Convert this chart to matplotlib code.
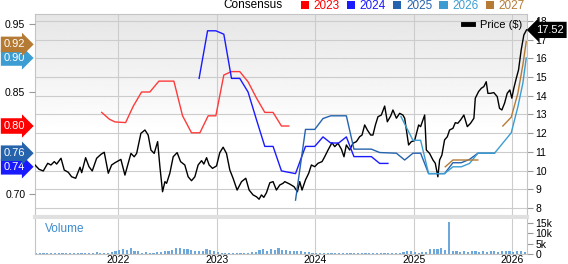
"""
Price vs. EPS consensus chart with a volume panel underneath.
"""
import matplotlib.pyplot as plt
import matplotlib.transforms as mtransforms
from matplotlib.lines import Line2D
from matplotlib.patches import Patch
import numpy as np

plt.rcParams['font.family'] = ['Liberation Sans', 'DejaVu Sans']

# ---- data (dates as decimal years) ----
price_dates = [
    2021.155, 2021.196, 2021.239, 2021.284, 2021.317, 2021.351, 2021.375, 2021.419, 2021.452, 2021.493,
    2021.527, 2021.568, 2021.612, 2021.629, 2021.669, 2021.703, 2021.736, 2021.781, 2021.825, 2021.858,
    2021.899, 2021.933, 2021.967, 2022.027, 2022.068, 2022.101, 2022.129, 2022.162, 2022.187, 2022.230,
    2022.271, 2022.304, 2022.332, 2022.365, 2022.400, 2022.423, 2022.450, 2022.474, 2022.491, 2022.524,
    2022.558, 2022.598, 2022.633, 2022.676, 2022.710, 2022.744, 2022.778, 2022.811, 2022.846, 2022.869,
    2022.897, 2022.923, 2022.957, 2022.998, 2023.031, 2023.065, 2023.099, 2023.133, 2023.166, 2023.207,
    2023.252, 2023.295, 2023.329, 2023.369, 2023.404, 2023.430, 2023.454, 2023.478, 2023.505, 2023.539,
    2023.572, 2023.606, 2023.640, 2023.673, 2023.691, 2023.741, 2023.785, 2023.819, 2023.843, 2023.866,
    2023.901, 2023.934, 2023.961, 2023.995, 2024.028, 2024.069, 2024.096, 2024.130, 2024.170, 2024.198,
    2024.231, 2024.266, 2024.292, 2024.316, 2024.350, 2024.383, 2024.418, 2024.451, 2024.475, 2024.502,
    2024.529, 2024.563, 2024.586, 2024.611, 2024.637, 2024.671, 2024.705, 2024.732, 2024.766, 2024.789,
    2024.824, 2024.857, 2024.890, 2024.908, 2024.948, 2024.976, 2025.009, 2025.050, 2025.070, 2025.093,
    2025.111, 2025.128, 2025.161, 2025.195, 2025.219, 2025.245, 2025.263, 2025.286, 2025.313, 2025.341,
    2025.364, 2025.398, 2025.422, 2025.448, 2025.476, 2025.509, 2025.544, 2025.577, 2025.611, 2025.625,
    2025.658, 2025.686, 2025.712, 2025.736, 2025.753, 2025.780, 2025.813, 2025.848, 2025.871, 2025.895,
    2025.922, 2025.949, 2025.976, 2025.996, 2026.016, 2026.041, 2026.064, 2026.091, 2026.118, 2026.145,
]
price = [
    10.30, 10.07, 9.98, 10.39, 10.30, 10.48, 10.35, 10.66, 10.03, 9.91,
    9.67, 9.59, 10.18, 9.89, 10.69, 10.21, 9.98, 10.66, 10.87, 10.98,
    9.86, 10.30, 10.42, 10.60, 9.76, 10.39, 10.92, 10.74, 10.92, 11.99,
    12.17, 11.90, 11.10, 10.92, 11.55, 10.21, 8.87, 9.41, 9.32, 9.86,
    10.74, 10.96, 10.48, 10.30, 9.67, 9.46, 9.67, 10.30, 10.53, 10.35,
    10.69, 10.30, 10.12, 10.25, 10.96, 11.25, 10.92, 10.03, 9.59, 8.96,
    9.41, 9.59, 8.96, 8.70, 8.60, 8.47, 8.70, 8.57, 8.82, 9.35,
    9.41, 8.96, 9.23, 9.32, 9.41, 9.28, 9.14, 8.87, 9.41, 8.96,
    9.50, 9.86, 10.30, 10.21, 10.39, 10.48, 10.74, 11.10, 11.49, 11.28,
    11.46, 11.14, 10.74, 11.37, 11.10, 11.46, 11.55, 11.81, 11.90, 12.44,
    12.17, 11.90, 11.90, 12.44, 12.88, 12.97, 13.45, 12.61, 12.92, 13.24,
    12.80, 13.06, 12.97, 12.80, 11.37, 11.55, 11.60, 12.44, 12.35, 12.70,
    12.97, 11.10, 10.92, 10.57, 10.39, 9.67, 10.57, 10.83, 11.64, 11.81,
    12.17, 12.26, 12.56, 12.53, 12.71, 12.97, 12.35, 12.53, 12.80, 13.87,
    14.22, 14.40, 14.49, 14.75, 14.13, 14.13, 14.17, 13.95, 13.33, 13.24,
    13.60, 14.13, 14.31, 13.87, 14.40, 14.93, 15.38, 16.45, 17.25, 17.52,
]

eps23_dates = [2021.832, 2021.910, 2021.967, 2022.075, 2022.152, 2022.237, 2022.321, 2022.413,
               2022.565, 2022.653, 2022.744, 2022.829, 2022.913, 2022.991, 2023.072, 2023.150,
               2023.234, 2023.318, 2023.404, 2023.488, 2023.572, 2023.657, 2023.731]
eps23 = [0.820, 0.810, 0.806, 0.805, 0.829, 0.850, 0.850, 0.866, 0.866, 0.815, 0.790, 0.790,
         0.815, 0.815, 0.875, 0.880, 0.880, 0.865, 0.841, 0.820, 0.820, 0.800, 0.800]

eps24_dates = [2022.821, 2022.907, 2022.991, 2023.072, 2023.150, 2023.234, 2023.318, 2023.404,
               2023.488, 2023.572, 2023.657, 2023.691, 2023.800, 2023.901, 2023.995, 2024.079,
               2024.157, 2024.238, 2024.316, 2024.393, 2024.570, 2024.654, 2024.738]
eps24 = [0.870, 0.940, 0.940, 0.935, 0.870, 0.870, 0.850, 0.809, 0.770, 0.770, 0.734, 0.733,
         0.730, 0.770, 0.770, 0.784, 0.775, 0.775, 0.784, 0.755, 0.755, 0.745, 0.745]

eps25_dates = [2023.800, 2023.901, 2023.995, 2024.079, 2024.157, 2024.316, 2024.393, 2024.570,
               2024.654, 2024.824, 2024.908, 2024.992, 2025.070, 2025.151, 2025.313, 2025.398,
               2025.483, 2025.567, 2025.651, 2025.820]
eps25 = [0.691, 0.795, 0.795, 0.811, 0.815, 0.815, 0.766, 0.766, 0.761, 0.760, 0.750, 0.760,
         0.760, 0.730, 0.730, 0.746, 0.746, 0.751, 0.760, 0.760]

eps26_dates = [2024.870, 2024.992, 2025.070, 2025.151, 2025.313, 2025.398, 2025.483, 2025.567,
               2025.651, 2025.820, 2025.905, 2025.990, 2026.057, 2026.108, 2026.142]
eps26 = [0.814, 0.779, 0.779, 0.730, 0.730, 0.740, 0.740, 0.745, 0.760, 0.760, 0.775, 0.790,
         0.828, 0.863, 0.900]

eps27_dates = [2025.320, 2025.398, 2025.651, 2025.780, 2025.905, 2025.990, 2026.057, 2026.108, 2026.142]
eps27 = [0.740, 0.750, 0.750, np.nan, 0.800, 0.813, 0.848, 0.890, 0.924]

years = ['2023', '2024', '2025', '2026', '2027']
tag_values = [0.80, 0.74, 0.76, 0.90, 0.92]
last_price = 17.52

# volume, thousands of shares, one bar every two weeks from early 2021
vol_start = 2021.165
volume = [
    0.3, 0.4, 0.3, 0.5, 0.4, 0.3, 0.6, 0.4, 0.3, 0.5, 0.4, 0.7, 0.5, 0.4, 0.3, 0.6, 0.8, 0.5, 0.4, 0.6,
    0.9, 1.4, 2.0, 2.6, 1.8, 2.8, 1.5, 1.2, 0.6, 0.8, 0.5, 0.7, 1.0, 0.9, 1.3, 1.6, 2.1, 2.8, 3.0, 2.4,
    2.6, 1.8, 1.4, 1.2, 1.6, 2.5, 1.8, 1.5, 1.0, 0.6, 0.5, 0.4, 0.6, 0.5, 0.4, 0.7, 0.5, 0.8, 0.9, 1.8,
    2.2, 1.6, 2.5, 1.9, 2.7, 2.0, 1.7, 1.5, 1.4, 1.2, 1.6, 1.0, 0.8, 0.5, 0.4, 0.5, 0.3, 0.4, 0.6, 0.5,
    0.3, 0.4, 0.5, 0.4, 0.6, 0.3, 0.4, 0.5, 0.7, 0.4, 0.3, 0.5, 0.6, 0.4, 0.5, 0.7, 0.6, 0.8, 1.6, 1.2,
    0.9, 0.7, 1.0, 0.8, 2.2, 2.6, 2.4, 3.1, 2.0, 15.5, 1.5, 1.2, 1.0, 1.3, 1.1, 1.4, 1.2, 1.0, 1.3, 1.1,
    1.5, 1.2, 1.0, 1.4, 1.2, 1.6, 1.1, 1.3, 1.2, 1.0,
]
vol_dates = vol_start + np.arange(len(volume)) / 26.0

year_ticks = [2022, 2023, 2024, 2025, 2026]

# ---- styling ----
colors = ['#ff0000', '#1a1aff', '#2563ad', '#3b9dd2', '#b57b35']
grid_c = '#cccccc'
spine_c = '#c4c4c4'

W, H = 568, 264


def box(l, t, r, b):
    return [l / W, 1 - b / H, (r - l) / W, (b - t) / H]


fig = plt.figure(figsize=(W / 100, H / 100), dpi=100)
ax = fig.add_axes(box(35, 14, 527, 217))
axv = fig.add_axes(box(35, 219, 527, 254))
axe = ax.twinx()

# background gradient (gray at top fading to white)
t = np.linspace(0, 1, 200)
shade = 1 - 0.10 * np.clip((t - 0.42) / 0.58, 0, 1)
ax.imshow(shade[::-1].reshape(-1, 1), extent=(0, 1, 0, 1), transform=ax.transAxes,
          aspect='auto', cmap='gray', vmin=0, vmax=1, zorder=0, interpolation='bilinear')

# price panel
ax.plot(price_dates, price, color='black', lw=1.0, zorder=3)
ax.set_xlim(2021.155, 2026.15)
ax.set_ylim(7.52, 18.37)
ax.set_yticks(range(8, 19))
ax.set_xticks(year_ticks)
ax.grid(True, color=grid_c, lw=0.8, zorder=1)
ax.set_axisbelow(True)
ax.yaxis.tick_right()
ax.tick_params(axis='y', length=4, color='#999999', labelsize=7.5, pad=2)
ax.tick_params(axis='x', bottom=False, labelbottom=False)
for s in ax.spines.values():
    s.set_color(spine_c)
    s.set_linewidth(0.8)
ax.spines['bottom'].set_color('#e0e0e0')
ax.spines['bottom'].set_linewidth(3)

# consensus lines
for d, v, c in zip([eps23_dates, eps24_dates, eps25_dates, eps26_dates, eps27_dates],
                   [eps23, eps24, eps25, eps26, eps27], colors):
    lc = '#ff3a3a' if c == '#ff0000' else c
    axe.plot(d, v, color=lc, lw=1.0)
axe.set_ylim(0.6662, 0.9647)
axe.set_yticks([0.70, 0.85, 0.95])
axe.set_yticklabels(['0.70', '0.85', '0.95'])
axe.yaxis.tick_left()
axe.tick_params(axis='y', length=4, color='#999999', labelsize=7.5, pad=3)
for s in axe.spines.values():
    s.set_visible(False)

# value tags
tr_left = mtransforms.blended_transform_factory(axe.transAxes, axe.transData)
for val, c in zip(tag_values, colors):
    axe.text(-0.042, val, f'{val:.2f}', transform=tr_left, ha='center', va='center',
             color='white', fontsize=8, clip_on=False, zorder=5,
             bbox=dict(boxstyle='rarrow,pad=0.25', fc=c, ec='none'))
tr_right = mtransforms.blended_transform_factory(ax.transAxes, ax.transData)
ax.text(1.046, last_price, f'{last_price:.2f}', transform=tr_right, ha='center', va='center',
        color='white', fontsize=8, clip_on=False, zorder=5,
        bbox=dict(boxstyle='larrow,pad=0.28', fc='black', ec='none'))

ax.legend(handles=[Line2D([], [], color='black', lw=3.5)], labels=['Price ($)'],
          loc='upper right', bbox_to_anchor=(0.99, 0.97), frameon=False, fontsize=8,
          handlelength=0.9, handletextpad=0.6, borderpad=0, borderaxespad=0)

# volume panel
axv.bar(vol_dates, volume, width=0.022, color='#6ea7d9', zorder=2)
axv.set_xlim(ax.get_xlim())
axv.set_ylim(0, 16.7)
axv.set_xticks(year_ticks)
axv.set_xticklabels([str(y) for y in year_ticks])
axv.set_yticks([0, 5, 10, 15])
axv.set_yticklabels(['0', '5k', '10k', '15k'])
axv.yaxis.tick_right()
axv.tick_params(axis='y', length=4, color='#999999', labelsize=7.5, pad=2)
axv.tick_params(axis='x', length=0, labelsize=7.5, pad=0.8)
axv.grid(True, axis='x', color=grid_c, lw=0.8, zorder=1)
axv.set_axisbelow(True)
for s in axv.spines.values():
    s.set_color(spine_c)
    s.set_linewidth(0.8)
axv.spines['top'].set_visible(False)
axv.text(0.02, 0.70, 'Volume', transform=axv.transAxes, color='#3d8bcd', fontsize=8.5, va='center')

# header legend
fig.text(283 / W, 1 - 5.5 / H, 'Consensus', ha='right', va='center', fontsize=8.5)
fig.legend(handles=[Patch(fc=c, ec='none') for c in colors], labels=years, ncol=5,
           loc='upper right', bbox_to_anchor=(525 / W, 1.0), frameon=False, fontsize=8.5,
           handlelength=0.7, handleheight=0.7, handletextpad=0.4, columnspacing=0.6,
           borderpad=0, borderaxespad=0, labelcolor=colors)

fig.savefig('out.png', dpi=100)
